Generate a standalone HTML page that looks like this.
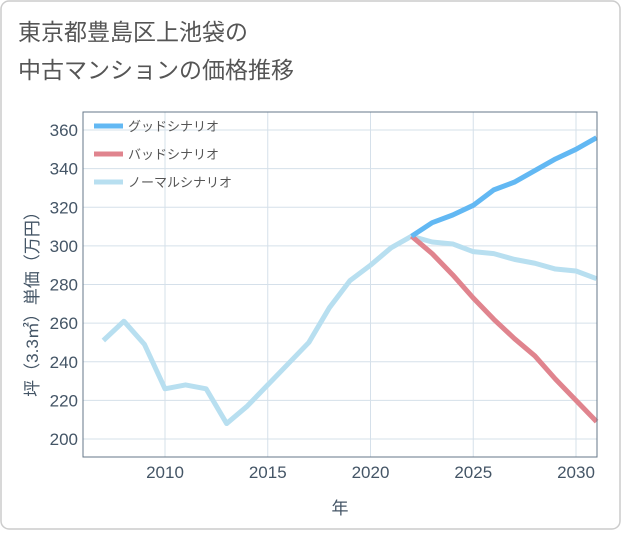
<!DOCTYPE html>
<html><head><meta charset="utf-8"><style>
body{margin:0;background:#fff;font-family:"Liberation Sans","Noto Sans CJK JP",sans-serif;}
#wrap{position:relative;width:621px;height:530px;}
</style></head><body>
<div id="wrap">
<svg id="svg" width="621" height="530" xmlns="http://www.w3.org/2000/svg">
<rect x="1" y="1" width="619" height="528" rx="8" fill="#fff" stroke="#ccc" stroke-width="1.5"/>
<text x="18" y="40" font-size="23" fill="#555" font-family="Liberation Sans,Noto Sans CJK JP,sans-serif">東京都豊島区上池袋の</text>
<text x="18" y="78" font-size="23" fill="#555" font-family="Liberation Sans,Noto Sans CJK JP,sans-serif">中古マンションの価格推移</text>
<g id="grid"></g><g id="series"></g><g id="axes"></g>
</svg>
</div>
<script>
const years=[2007,2008,2009,2010,2011,2012,2013,2014,2015,2016,2017,2018,2019,2020,2021,2022,2023,2024,2025,2026,2027,2028,2029,2030,2031];
const normal=[251,261,249,226,228,226,208,217,228,239,250,268,282,290,299,305,302,301,297,296,293,291,288,287,283];
const goodYears=[2022,2023,2024,2025,2026,2027,2028,2029,2030,2031];
const good=[305,312,316,321,329,333,339,345,350,356];
const bad=[305,296,285,273,262,252,243,231,220,209];
const xTicks=[2010,2015,2020,2025,2030];
const yTicks=[200,220,240,260,280,300,320,340,360];
const L=83,R=597,T=112,B=457;
const X=y=>165+(y-2010)*(576-165)/20;
const Y=v=>439-(v-200)*(439-130)/160;
const NS="http://www.w3.org/2000/svg";
function mk(tag,attrs,parent){const e=document.createElementNS(NS,tag);for(const k in attrs)e.setAttribute(k,attrs[k]);document.getElementById(parent).appendChild(e);return e;}
xTicks.forEach(t=>{const l=mk('line',{x1:X(t),x2:X(t),y1:T,y2:B,stroke:'#d5e0ea','stroke-width':1},'grid');


const tx=mk('text',{x:X(t),y:478,'text-anchor':'middle','font-size':17,fill:'#445566'},'axes');tx.textContent=t;

});
yTicks.forEach(t=>{const l=mk('line',{x1:L,x2:R,y1:Y(t),y2:Y(t),stroke:'#d5e0ea','stroke-width':1},'grid');


const tx=mk('text',{x:78,y:Y(t)+6,'text-anchor':'end','font-size':17,fill:'#445566'},'axes');tx.textContent=t;

});
const fr=mk('rect',{x:L,y:T,width:R-L,height:B-T,fill:'none',stroke:'#667788','stroke-width':1},'axes');


function line(xs,vs,color,name){const p=mk('polyline',{points:xs.map((y,i)=>X(y)+','+Y(vs[i])).join(' '),fill:'none',stroke:color,'stroke-width':5,'stroke-linejoin':'round'},'series');

}
line(years,normal,'#b8dff0','normal-scenario-line');
line(goodYears,bad,'#e0848e','bad-scenario-line');
line(goodYears,good,'#62b8f3','good-scenario-line');
const leg=[['グッドシナリオ','#62b8f3'],['バッドシナリオ','#e0848e'],['ノーマルシナリオ','#b8dff0']];
leg.forEach((d,i)=>{const y=126+i*28;const l=mk('line',{x1:94,x2:123,y1:y,y2:y,stroke:d[1],'stroke-width':5},'axes');


const t=mk('text',{x:128,y:y+5,'font-size':13,fill:'#555'},'axes');t.textContent=d[0];

});
const xt=mk('text',{x:340,y:514,'text-anchor':'middle','font-size':17,fill:'#445566'},'axes');xt.textContent='年';


const yt=mk('text',{x:0,y:0,'text-anchor':'middle','font-size':17,fill:'#445566',transform:'translate(38,300) rotate(-90)'},'axes');yt.textContent='坪（3.3㎡）単価（万円）';


</script>
</body></html>
